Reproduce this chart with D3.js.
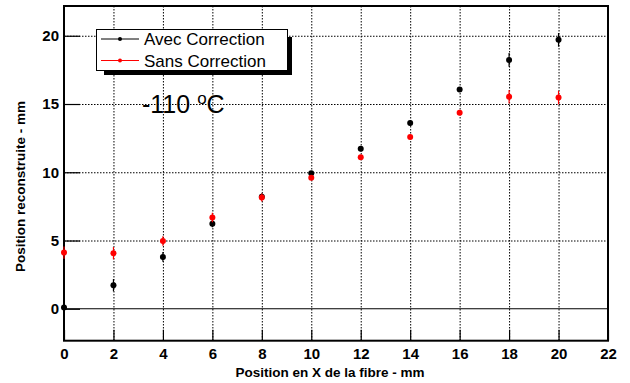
<!DOCTYPE html>
<html>
<head>
  <meta charset="utf-8">
  <title>Position reconstruite</title>
  <style>
    body { margin: 0; background: #fff; }
    svg { display: block; }
    text { font-family: "Liberation Sans", Arial, sans-serif; }
  </style>
</head>
<body>
  <div id="plot"></div>

  <script src="https://cdn.jsdelivr.net/npm/d3@7"></script>
  <script>
    // data
    let fibreX = [0, 2, 4, 6, 8, 10, 12, 14, 16, 18, 20];
    let avecY = [0.1, 1.73, 3.8, 6.23, 8.2, 9.93, 11.73, 13.6, 16.06, 18.23, 19.7];
    let avecErr = [0.1, 0.45, 0.35, 0.25, 0.25, 0.15, 0.2, 0.2, 0.15, 0.5, 0.5];
    let sansY = [4.12, 4.07, 4.96, 6.69, 8.15, 9.59, 11.1, 12.58, 14.36, 15.53, 15.47];
    let sansErr = [0.45, 0.45, 0.35, 0.35, 0.3, 0.15, 0.15, 0.15, 0.1, 0.5, 0.5];
    let seriesNames = ['Avec Correction', 'Sans Correction'];
    let xTicks = [0, 2, 4, 6, 8, 10, 12, 14, 16, 18, 20, 22];
    let yTicks = [0, 5, 10, 15, 20];

    function translate(x, y) {
      return 'translate(' + x + ',' + y + ')';
    }

    let svgWidth = 630;
    let svgHeight = 383;
    let frame = {left: 64, right: 608, top: 6, bottom: 340.7};

    let svg = d3.select('#plot')
      .append('svg')
        .attr('width', svgWidth)
        .attr('height', svgHeight);

    let x = d3.scaleLinear().domain([0, 22]).range([frame.left, frame.right]);
    let y = d3.scaleLinear().domain([-2.34, 22.18]).range([frame.bottom, frame.top]);

    let series = [
      {name: seriesNames[0], color: '#000', ys: avecY, errs: avecErr},
      {name: seriesNames[1], color: '#f00', ys: sansY, errs: sansErr}
    ];

    // dotted grid
    svg.append('g')
      .selectAll('line')
      .data(xTicks.filter(d => d > 0 && d < 22))
      .enter().append('line')
        .attr('x1', d => x(d) + 0.5).attr('x2', d => x(d) + 0.5)
        .attr('y1', frame.top).attr('y2', frame.bottom)
        .attr('stroke', '#000').attr('stroke-dasharray', '1.5,1.5');

    svg.append('g')
      .selectAll('line')
      .data(yTicks.filter(d => d > 0))
      .enter().append('line')
        .attr('x1', frame.left).attr('x2', frame.right)
        .attr('y1', d => y(d) + 0.5).attr('y2', d => y(d) + 0.5)
        .attr('stroke', '#000').attr('stroke-dasharray', '1.5,1.5');

    // solid line at zero
    svg.append('line')
      .attr('x1', frame.left).attr('x2', frame.right)
      .attr('y1', y(0)).attr('y2', y(0))
      .attr('stroke', '#000').attr('stroke-width', 1.2);

    // frame
    svg.append('rect')
      .attr('x', frame.left).attr('y', frame.top)
      .attr('width', frame.right - frame.left)
      .attr('height', frame.bottom - frame.top)
      .attr('fill', 'none').attr('stroke', '#000').attr('stroke-width', 2);

    // y axis (ticks inside)
    let yMajor = d3.axisLeft(y).tickValues(yTicks).tickSize(-16).tickPadding(5).tickFormat(d3.format('d'));
    let yMinor = d3.axisLeft(y).tickValues(d3.range(-2, 23)).tickSize(-8).tickFormat('');
    let gy = svg.append('g').attr('transform', translate(frame.left, 0));
    gy.call(yMinor);
    gy.call(yMajor);

    // x axis (ticks inside)
    let xMajor = d3.axisBottom(x).tickValues(xTicks).tickSize(-11).tickPadding(8).tickFormat(d3.format('d'));
    let xMinor = d3.axisBottom(x).tickValues(d3.range(0, 22.01, 0.5)).tickSize(-5).tickFormat('');
    let gx = svg.append('g').attr('transform', translate(0, frame.bottom));
    gx.call(xMinor);
    gx.call(xMajor);

    svg.selectAll('.domain').remove();
    svg.selectAll('.tick line').attr('stroke', '#000').attr('stroke-width', 1.2);
    svg.selectAll('.tick text')
      .attr('fill', '#000')
      .attr('font-family', null)
      .style('font-weight', 'bold')
      .style('font-size', '15px');

    // axis titles
    svg.append('text')
      .attr('x', (frame.left + frame.right) / 2 - 6)
      .attr('y', 377)
      .attr('text-anchor', 'middle')
      .style('font-weight', 'bold')
      .style('font-size', '13.5px')
      .text('Position en X de la fibre - mm');

    svg.append('text')
      .attr('transform', translate(25, 272) + ' rotate(-90)')
      .attr('text-anchor', 'start')
      .style('font-weight', 'bold')
      .style('font-size', '13.5px')
      .text('Position reconstruite - mm');

    // points with error bars
    series.forEach(function (s) {
      let g = svg.append('g');
      let pts = fibreX.map((d, i) => ({x: d, y: s.ys[i], e: s.errs[i]}));
      g.selectAll('line.err')
        .data(pts)
        .enter().append('line')
          .attr('class', 'err')
          .attr('x1', d => x(d.x)).attr('x2', d => x(d.x))
          .attr('y1', d => y(d.y - d.e)).attr('y2', d => y(d.y + d.e))
          .attr('stroke', s.color).attr('stroke-width', 1.2);
      g.selectAll('circle')
        .data(pts)
        .enter().append('circle')
          .attr('cx', d => x(d.x))
          .attr('cy', d => y(d.y))
          .attr('r', 3)
          .attr('fill', s.color);
    });

    // legend with shadow
    let lg = svg.append('g');
    lg.append('rect')
      .attr('x', 104).attr('y', 37)
      .attr('width', 188).attr('height', 38)
      .attr('fill', '#000');
    lg.append('rect')
      .attr('x', 96.5).attr('y', 29.5)
      .attr('width', 191).attr('height', 41)
      .attr('fill', '#fff').attr('stroke', '#000').attr('stroke-width', 1);

    series.forEach(function (s, i) {
      let ly = 39 + i * 21.5;
      lg.append('line')
        .attr('x1', 101).attr('x2', 139)
        .attr('y1', ly).attr('y2', ly)
        .attr('stroke', s.color).attr('stroke-width', 1);
      lg.append('circle')
        .attr('cx', 120).attr('cy', ly).attr('r', 2)
        .attr('fill', s.color);
      lg.append('text')
        .attr('x', 144).attr('y', ly + 6)
        .style('font-size', '17px')
        .text(s.name);
    });

    // temperature label
    let t = svg.append('text')
      .attr('x', 142).attr('y', 113)
      .style('font-size', '25px');
    t.append('tspan').text('-110 ');
    t.append('tspan').attr('dy', -9).style('font-size', '17px').text('o');
    t.append('tspan').attr('dy', 9).text('C');
  </script>
</body>
</html>
